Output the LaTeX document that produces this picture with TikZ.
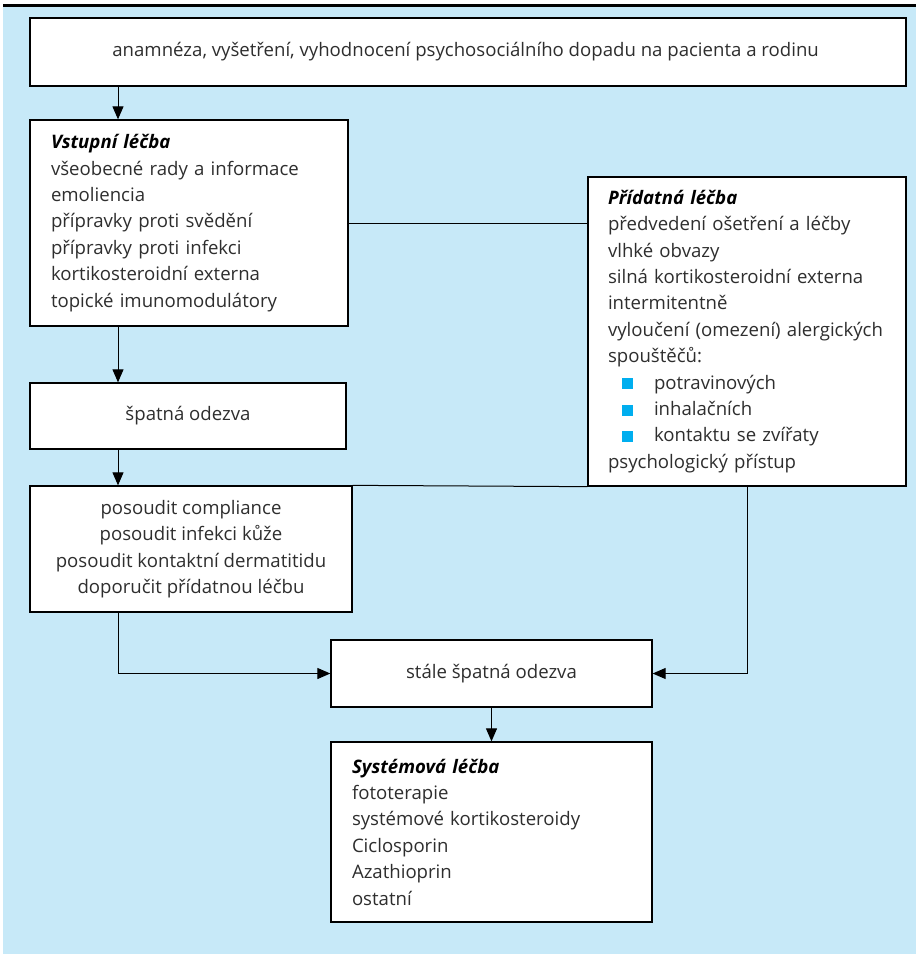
\documentclass[tikz,border=0pt]{standalone}
\usepackage{fontspec}
\setmainfont{Open Sans}
\usepackage{tikz}
\usetikzlibrary{arrows.meta, positioning, calc}
\definecolor{panelblue}{HTML}{C7E9F8}
\definecolor{bulletblue}{HTML}{00AEEF}
\definecolor{textgrey}{HTML}{2E2E2E}
\tikzstyle{stage} = [
  rectangle, draw=black, fill=white, line width=1.3pt,
  inner sep=0pt, text=textgrey,
  font=\fontsize{18.6}{26.4}\selectfont
]
\tikzstyle{listbox} = [stage, align=left, inner xsep=21pt]
\tikzstyle{centerbox} = [stage, align=center]
\tikzstyle{arrow} = [-{Triangle[length=13pt,width=11pt]}, line width=1pt]
\tikzstyle{link} = [line width=1pt]
\newcommand{\heading}[1]{{\color{black}\bfseries\itshape #1}}
\newcommand{\sqitem}[1]{\hspace*{14pt}{\color{bulletblue}\rule{11pt}{11pt}}\hspace*{21pt}#1}

\begin{document}
\begin{tikzpicture}[x=1pt, y=-1pt]

  % Panel
  \useasboundingbox (0,0) rectangle (916,954);
  \fill[panelblue] (3,7) rectangle (916,954);
  \draw[line width=3pt] (3,5.5) -- (916,5.5);

  % Assessment
  \node[centerbox, minimum width=876pt, minimum height=68pt] (assess) at (468,52) {
    anamnéza, vyšetření, vyhodnocení psychosociálního dopadu na pacienta a rodinu
  };

  % Initial treatment
  \node[listbox, text width=276pt, minimum height=206pt] (initial) at (189,223) {
    \heading{Vstupní léčba}\\
    všeobecné rady a informace\\
    emoliencia\\
    přípravky proti svědění\\
    přípravky proti infekci\\
    kortikosteroidní externa\\
    topické imunomodulátory
  };

  % Additional treatment
  \node[listbox, inner xsep=20pt, text width=278pt, minimum height=309pt] (additional) at (747,331.5) {
    \heading{Přídatná léčba}\\
    předvedení ošetření a léčby\\
    vlhké obvazy\\
    silná kortikosteroidní externa\\
    intermitentně\\
    vyloučení (omezení) alergických\\
    spouštěčů:\\
    \sqitem{potravinových}\\
    \sqitem{inhalačních}\\
    \sqitem{kontaktu se zvířaty}\\
    psychologický přístup
  };

  % Poor response
  \node[centerbox, minimum width=316pt, minimum height=66pt] (poor) at (188,416) {špatná odezva};

  % Review
  \node[centerbox, minimum width=322pt, minimum height=126pt] (review) at (191,549) {
    posoudit compliance\\
    posoudit infekci kůže\\
    posoudit kontaktní dermatitidu\\
    doporučit přídatnou léčbu
  };

  % Still poor response
  \node[centerbox, minimum width=321pt, minimum height=67pt] (stillpoor) at (491.5,673.5) {stále špatná odezva};

  % Systemic treatment
  \node[listbox, text width=279pt, minimum height=180pt] (systemic) at (491.5,832) {
    \heading{Systémová léčba}\\
    fototerapie\\
    systémové kortikosteroidy\\
    Ciclosporin\\
    Azathioprin\\
    ostatní
  };

  % Arrows
  \coordinate (leftcol) at (118,0);
  \draw[arrow] (assess.south -| leftcol) -- (initial.north -| leftcol);
  \draw[arrow] (initial.south -| leftcol) -- (poor.north -| leftcol);
  \draw[arrow] (poor.south -| leftcol) -- (review.north -| leftcol);
  \draw[link] (initial.east) -- (initial.east -| additional.west);
  \draw[link] (review.north east) -- (additional.south west);
  \draw[arrow] (review.south -| leftcol) |- (stillpoor.west);
  \draw[arrow] (additional.south) |- (stillpoor.east);
  \draw[arrow] (stillpoor) -- (systemic);

\end{tikzpicture}
\end{document}
